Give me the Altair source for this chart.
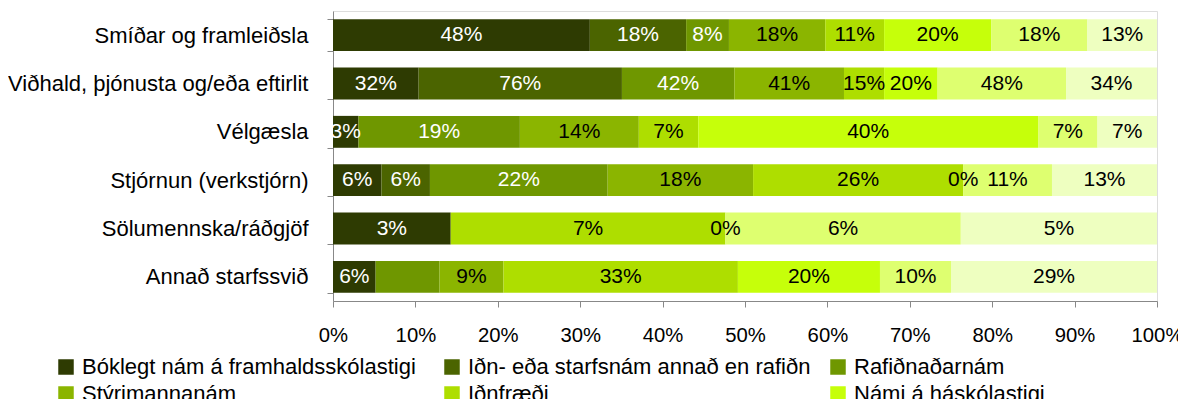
import altair as alt
import pandas as pd

categories = [
    "Smíðar og framleiðsla",
    "Viðhald, þjónusta og/eða eftirlit",
    "Vélgæsla",
    "Stjórnun (verkstjórn)",
    "Sölumennska/ráðgjöf",
    "Annað starfssvið",
]

series = [
    "Bóklegt nám á framhaldsskólastigi",
    "Iðn- eða starfsnám annað en rafiðn",
    "Rafiðnaðarnám",
    "Stýrimannanám",
    "Iðnfræði",
    "Námi á háskólastigi",
    "Annað nám",
    "Ekkert nám",
]

colors = ["#2E3B02", "#4B6400", "#6F9700", "#8BB500", "#AEDE00", "#C6FF0A", "#DEFF70", "#EEFFC0"]
label_colors = ["white", "white", "white", "black", "black", "black", "black", "black"]

# values per series, in category order (None = no segment)
s1 = [48, 32, 3, 6, 3, 6]
s2 = [18, 76, None, 6, None, None]
s3 = [8, 42, 19, 22, None, 9]
s4 = [18, 41, 14, 18, None, 9]
s5 = [11, 15, 7, 26, 7, 33]
s6 = [20, 20, 40, 0, 0, 20]
s7 = [18, 48, 7, 11, 6, 10]
s8 = [13, 34, 7, 13, 5, 29]
values = [s1, s2, s3, s4, s5, s6, s7, s8]

# (series index, category index) of segments drawn without a data label
hidden_labels = [(2, 5)]

rows = []
for si, (name, vals) in enumerate(zip(series, values)):
    for ci, v in enumerate(vals):
        if v is None:
            continue
        rows.append({
            "cat": categories[ci],
            "series": name,
            "order": si,
            "value": v,
            "label": "" if (si, ci) in hidden_labels else f"{v}%",
            "lc": label_colors[si],
        })
df = pd.DataFrame(rows)

FONT = "Liberation Sans"

base = alt.Chart(df).transform_stack(
    stack="value",
    groupby=["cat"],
    as_=["x0", "x1"],
    offset="normalize",
    sort=[alt.SortField("order", order="ascending")],
).transform_calculate(mid="(datum.x0 + datum.x1) / 2")

y_enc = alt.Y(
    "cat:N",
    sort=categories,
    title=None,
    scale=alt.Scale(paddingInner=0.34, paddingOuter=0.17),
    axis=alt.Axis(
        tickBand="extent",
        tickSize=6,
        tickColor="#888888",
        domainColor="#888888",
        labelPadding=19,
        labelFontSize=22,
        labelFont=FONT,
        labelColor="black",
        labelLimit=400,
        grid=False,
    ),
)

bars = base.mark_bar().encode(
    y=y_enc,
    x=alt.X(
        "x0:Q",
        title=None,
        scale=alt.Scale(domain=[0, 1], nice=False),
        axis=alt.Axis(
            format="%",
            values=[i / 10 for i in range(11)],
            tickSize=6,
            tickColor="#888888",
            domainColor="#888888",
            labelFontSize=20.3,
            labelFont=FONT,
            labelColor="black",
            labelPadding=18,
            labelFlush=False,
            labelOverlap=False,
            grid=False,
        ),
    ),
    x2="x1:Q",
    color=alt.Color(
        "series:N",
        scale=alt.Scale(domain=series, range=colors),
        legend=alt.Legend(
            title=None,
            values=series[:6],
            orient="none",
            legendX=-278,
            legendY=345,
            columns=3,
            direction="horizontal",
            gridAlign="all",
            columnPadding=16,
            rowPadding=5,
            symbolType="square",
            symbolSize=240,
            symbolStrokeWidth=0,
            symbolOpacity=1,
            labelOffset=5,
            labelFontSize=22,
            labelFont=FONT,
            labelColor="black",
            labelLimit=500,
            padding=0,
        ),
    ),
)

text = base.mark_text(font=FONT, fontSize=21, baseline="middle", align="center").encode(
    y=alt.Y("cat:N", sort=categories),
    x=alt.X("mid:Q"),
    text="label:N",
    color=alt.Color("lc:N", scale=None),
)

chart = (
    alt.layer(bars, text)
    .properties(
        width=824,
        height=290,
        autosize=alt.AutoSizeParams(type="none"),
        padding={"left": 325, "top": 3, "right": 21, "bottom": 98},
    )
    .configure_view(stroke=None)
    .configure(background="white")
)

chart.save("out.html", embed_options={"renderer": "svg", "actions": False})
